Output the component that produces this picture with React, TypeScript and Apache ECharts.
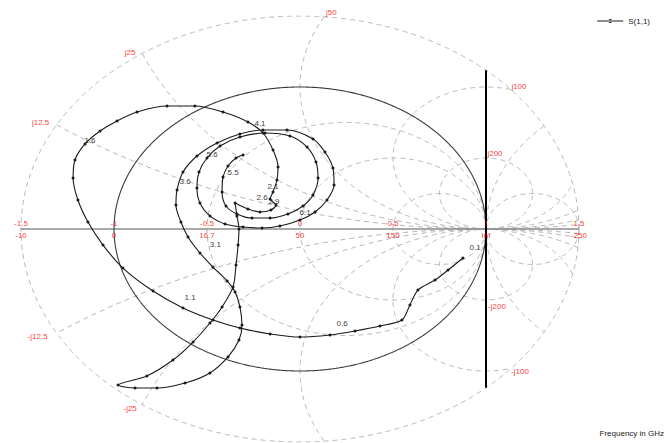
import React, { useEffect, useRef } from "react";
import * as echarts from "echarts";

// S(1,1) trace in the reflection-coefficient plane (real, imaginary)
const traceRe = [
  0.876, 0.796, 0.726, 0.634, 0.591, 0.548, 0.43, 0.296, 0.161, 0.0, -0.161, -0.323, -0.468, -0.629, -0.79, -0.952,
  -1.059, -1.14, -1.194, -1.22, -1.21, -1.156, -1.075, -0.984, -0.876, -0.715, -0.565, -0.414, -0.28, -0.199, -0.145,
  -0.118, -0.124, -0.145, -0.161, -0.129, -0.156, -0.215, -0.28, -0.349,
  -0.339, -0.328, -0.333, -0.344, -0.36, -0.419, -0.484, -0.575, -0.683, -0.823, -0.978,
  -0.887, -0.769, -0.618, -0.484, -0.387, -0.328, -0.312, -0.323, -0.349, -0.392, -0.468, -0.538, -0.602, -0.64,
  -0.667, -0.661, -0.629, -0.554, -0.446, -0.323, -0.199, -0.07, 0.07, 0.134, 0.177, 0.183, 0.145, 0.081, 0.0,
  -0.108, -0.204, -0.306, -0.403, -0.484, -0.538,
  -0.554, -0.543, -0.5, -0.43, -0.323, -0.188, -0.054, 0.038, 0.086, 0.097, 0.07, 0.016, -0.065, -0.161, -0.258,
  -0.339, -0.398,
  -0.419, -0.414, -0.387, -0.344, -0.306,
];
const traceIm = [
  -0.204, -0.289, -0.359, -0.43, -0.535, -0.641, -0.683, -0.718, -0.746, -0.761, -0.739, -0.697, -0.641, -0.556, -0.437,
  -0.275, -0.113, 0.049, 0.204, 0.359, 0.486, 0.599, 0.69, 0.761, 0.824, 0.866, 0.866, 0.824, 0.754, 0.676, 0.556,
  0.437, 0.345, 0.261, 0.211, 0.169, 0.134, 0.12, 0.141, 0.183,
  0.092, 0.0, -0.113, -0.254, -0.408, -0.549, -0.662, -0.796, -0.923, -1.035, -1.099,
  -1.12, -1.12, -1.085, -1.014, -0.901, -0.782, -0.676, -0.549, -0.444, -0.366, -0.268, -0.169, -0.056, 0.049,
  0.169, 0.275, 0.401, 0.514, 0.606, 0.669, 0.697, 0.697, 0.634, 0.542, 0.43, 0.31, 0.204, 0.12, 0.063,
  0.021, 0.007, 0.014, 0.035, 0.092, 0.183,
  0.289, 0.401, 0.5, 0.585, 0.648, 0.676, 0.655, 0.577, 0.472, 0.359, 0.239, 0.162, 0.106, 0.077, 0.077,
  0.106, 0.162,
  0.261, 0.366, 0.444, 0.5, 0.521,
];

// frequency annotations (GHz) and where they sit in the Γ plane
const freqLabels = ["0.1", "0.6", "1.1", "1.6", "4.1", "2.1", "2.6", "2.9", "3.1", "3.6", "5.6", "5.5", "6.1"];
const freqLabelRe = [0.941, 0.226, -0.591, -1.129, -0.215, -0.145, -0.204, -0.14, -0.455, -0.618, -0.473, -0.36, 0.027];
const freqLabelIm = [-0.127, -0.662, -0.479, 0.62, 0.746, 0.296, 0.225, 0.197, -0.106, 0.338, 0.528, 0.401, 0.113];

// real-axis ticks: Γ values and the matching impedances (Z0 = 50 Ω)
const gammaTicks = [-1.5, -1, -0.5, 0, 0.5, 1, 1.5];
const gammaTickLabels = ["-1.5", "-1", "-0.5", "0", "0.5", "1", "1.5"];
const impedanceTickLabels = ["-10", "0", "16.7", "50", "150", "Inf", "-250"];

// normalized reactance arcs and their labels
const reactances = [0.25, 0.5, 1, 2, 4];
const reactanceLabelsPos = ["j12.5", "j25", "j50", "j100", "j200"];
const reactanceLabelsNeg = ["-j12.5", "-j25", "", "-j100", "-j200"];
// normalized resistance circles (negative ones lie outside |Γ| = 1)
const resistances = [1 / 3, 1, 3, -2, -5];
const outerRadius = 1.5;

type Pt = [number, number];

function circleSegments(cx: number, cy: number, R: number, maxR: number, n = 2000): Pt[][] {
  const inside = (x: number, y: number) => x * x + y * y <= maxR * maxR + 1e-9;
  const segs: Pt[][] = [];
  let cur: Pt[] = [];
  let prevIns = false;
  let prevT = 0;
  for (let i = 0; i <= n; i++) {
    const t = (i / n) * Math.PI * 2;
    const x = cx + R * Math.cos(t);
    const y = cy + R * Math.sin(t);
    const ins = inside(x, y);
    if (i > 0 && ins !== prevIns) {
      let a = prevT;
      let b = t;
      for (let k = 0; k < 40; k++) {
        const m = (a + b) / 2;
        if (inside(cx + R * Math.cos(m), cy + R * Math.sin(m)) === prevIns) a = m;
        else b = m;
      }
      const bp: Pt = [cx + R * Math.cos(a), cy + R * Math.sin(a)];
      if (prevIns) {
        cur.push(bp);
        segs.push(cur);
        cur = [];
      } else {
        cur = [bp];
      }
    }
    if (ins) cur.push([x, y]);
    prevIns = ins;
    prevT = t;
  }
  if (cur.length > 1) segs.push(cur);
  return segs;
}

function reactanceAnchor(x: number): Pt {
  // intersection of reactance circle with the outer boundary (upper one for x > 0)
  const a = 1 + 1 / (x * x);
  const b = -3.25 / x;
  const c = 2.640625 - outerRadius * outerRadius;
  const disc = b * b - 4 * a * c;
  if (disc < 0) return [1, 2 / x];
  const v = (-b + Math.sign(x) * Math.sqrt(disc)) / (2 * a);
  const u = 1.625 - v / x;
  return [u, v];
}

export default function App() {
  const ref = useRef<HTMLDivElement>(null);
  useEffect(() => {
    if (!ref.current) return;
    const chart = echarts.init(ref.current, undefined, { renderer: "svg" });
    const gridColor = "#b2b2b2";
    const dash = [5, 4];
    const series: any[] = [];
    const font = "Liberation Sans, Arial, sans-serif";
    const addGrid = (pts: Pt[], style: any = {}) => {
      series.push({
        type: "line",
        data: pts,
        symbol: "none",
        silent: true,
        animation: false,
        z: 1,
        lineStyle: { color: gridColor, width: 1, type: dash, ...style },
      });
    };
    // outer boundary |Γ| = 1.5
    circleSegments(0, 0, outerRadius, outerRadius + 0.01).forEach((s) => addGrid(s));
    // reactance circles
    reactances.forEach((x) => {
      [x, -x].forEach((xx) => {
        circleSegments(1, 1 / xx, 1 / Math.abs(xx), outerRadius).forEach((s) => addGrid(s));
      });
    });
    // resistance circles
    resistances.forEach((r) => {
      circleSegments(r / (r + 1), 0, 1 / Math.abs(r + 1), outerRadius).forEach((s) => addGrid(s));
    });
    // real axis
    addGrid([[-outerRadius, 0], [outerRadius, 0]], { type: "solid", color: "#8c8c8c", width: 1.5 });
    // unit circle (r = 0) solid
    circleSegments(0, 0, 1, outerRadius).forEach((s) =>
      addGrid(s, { type: "solid", color: "#3a3a3a", width: 1.1 })
    );
    // r = -1 line (Re Γ = 1)
    const vEnd = Math.sqrt(outerRadius * outerRadius - 1);
    addGrid([[1, -vEnd], [1, vEnd]], { type: "solid", color: "#000", width: 2 });

    // data trace
    series.push({
      name: "S(1,1)",
      type: "line",
      data: traceRe.map((re, i) => [re, traceIm[i]]),
      smooth: 0.3,
      symbol: "circle",
      symbolSize: 3,
      z: 5,
      lineStyle: { color: "#1a1a1a", width: 1.1 },
      itemStyle: { color: "#1a1a1a" },
    });

    // frequency annotations
    series.push({
      type: "scatter",
      silent: true,
      symbolSize: 0,
      z: 6,
      itemStyle: { color: "#000" },
      data: freqLabels.map((t, i) => ({ name: t, value: [freqLabelRe[i], freqLabelIm[i]] })),
      label: {
        show: true,
        position: "inside",
        formatter: "{b}",
        fontSize: 8,
        color: "#000",
        textBorderWidth: 0,
        fontFamily: font,
      },
    });

    const red = "#ff0000";
    // real axis ticks: Γ above, impedance below
    const axisItems: any[] = [];
    gammaTicks.forEach((g, i) => {
      axisItems.push({ name: gammaTickLabels[i], value: [g, 0], label: { offset: [0, -6] } });
      axisItems.push({ name: impedanceTickLabels[i], value: [g, 0], label: { offset: [0, 6] } });
    });
    // reactance labels
    const posOffsets: Pt[] = [[-16, -2], [-12, -1], [7, -4], [8, -3], [9, -5]];
    const negOffsets: Pt[] = [[-19, 3], [-12, 4], [0, 0], [9, 3], [11, 6]];
    reactances.forEach((x, i) => {
      const p = reactanceAnchor(x);
      axisItems.push({ name: reactanceLabelsPos[i], value: p, label: { offset: posOffsets[i] } });
      if (reactanceLabelsNeg[i]) {
        const q = reactanceAnchor(-x);
        axisItems.push({ name: reactanceLabelsNeg[i], value: q, label: { offset: negOffsets[i] } });
      }
    });
    series.push({
      type: "scatter",
      silent: true,
      symbolSize: 0,
      z: 7,
      itemStyle: { color: red },
      data: axisItems,
      label: {
        show: true,
        position: "inside",
        formatter: "{b}",
        fontSize: 8,
        color: red,
        textBorderWidth: 0,
        fontFamily: font,
      },
    });

    chart.setOption({
      animation: false,
      backgroundColor: "#ffffff",
      grid: { left: 21, top: 16, width: 558, height: 426, containLabel: false },
      xAxis: { type: "value", min: -1.5, max: 1.5, show: false },
      yAxis: { type: "value", min: -1.5, max: 1.5, show: false },
      legend: {
        data: ["S(1,1)"],
        right: 14,
        top: 12,
        itemWidth: 26,
        itemHeight: 5,
        itemGap: 4,
        icon: "path://M0,2 L26,2 L26,3 L0,3 Z M11,2.5 A2,2 0 1 0 15,2.5 A2,2 0 1 0 11,2.5 Z",
        itemStyle: { color: "#1a1a1a" },
        textStyle: { fontSize: 8, color: "#222", fontFamily: font },
      },
      graphic: [
        {
          type: "text",
          right: 5,
          bottom: 6,
          style: {
            text: "Frequency in GHz",
            fontSize: 8,
            fill: "#222",
            fontFamily: font,
          },
        },
      ],
      series,
    });
    return () => chart.dispose();
  }, []);
  return (
    <div
      ref={ref}
      style={{ position: "fixed", left: 0, top: 0, width: 669, height: 443, background: "#fff" }}
    />
  );
}
